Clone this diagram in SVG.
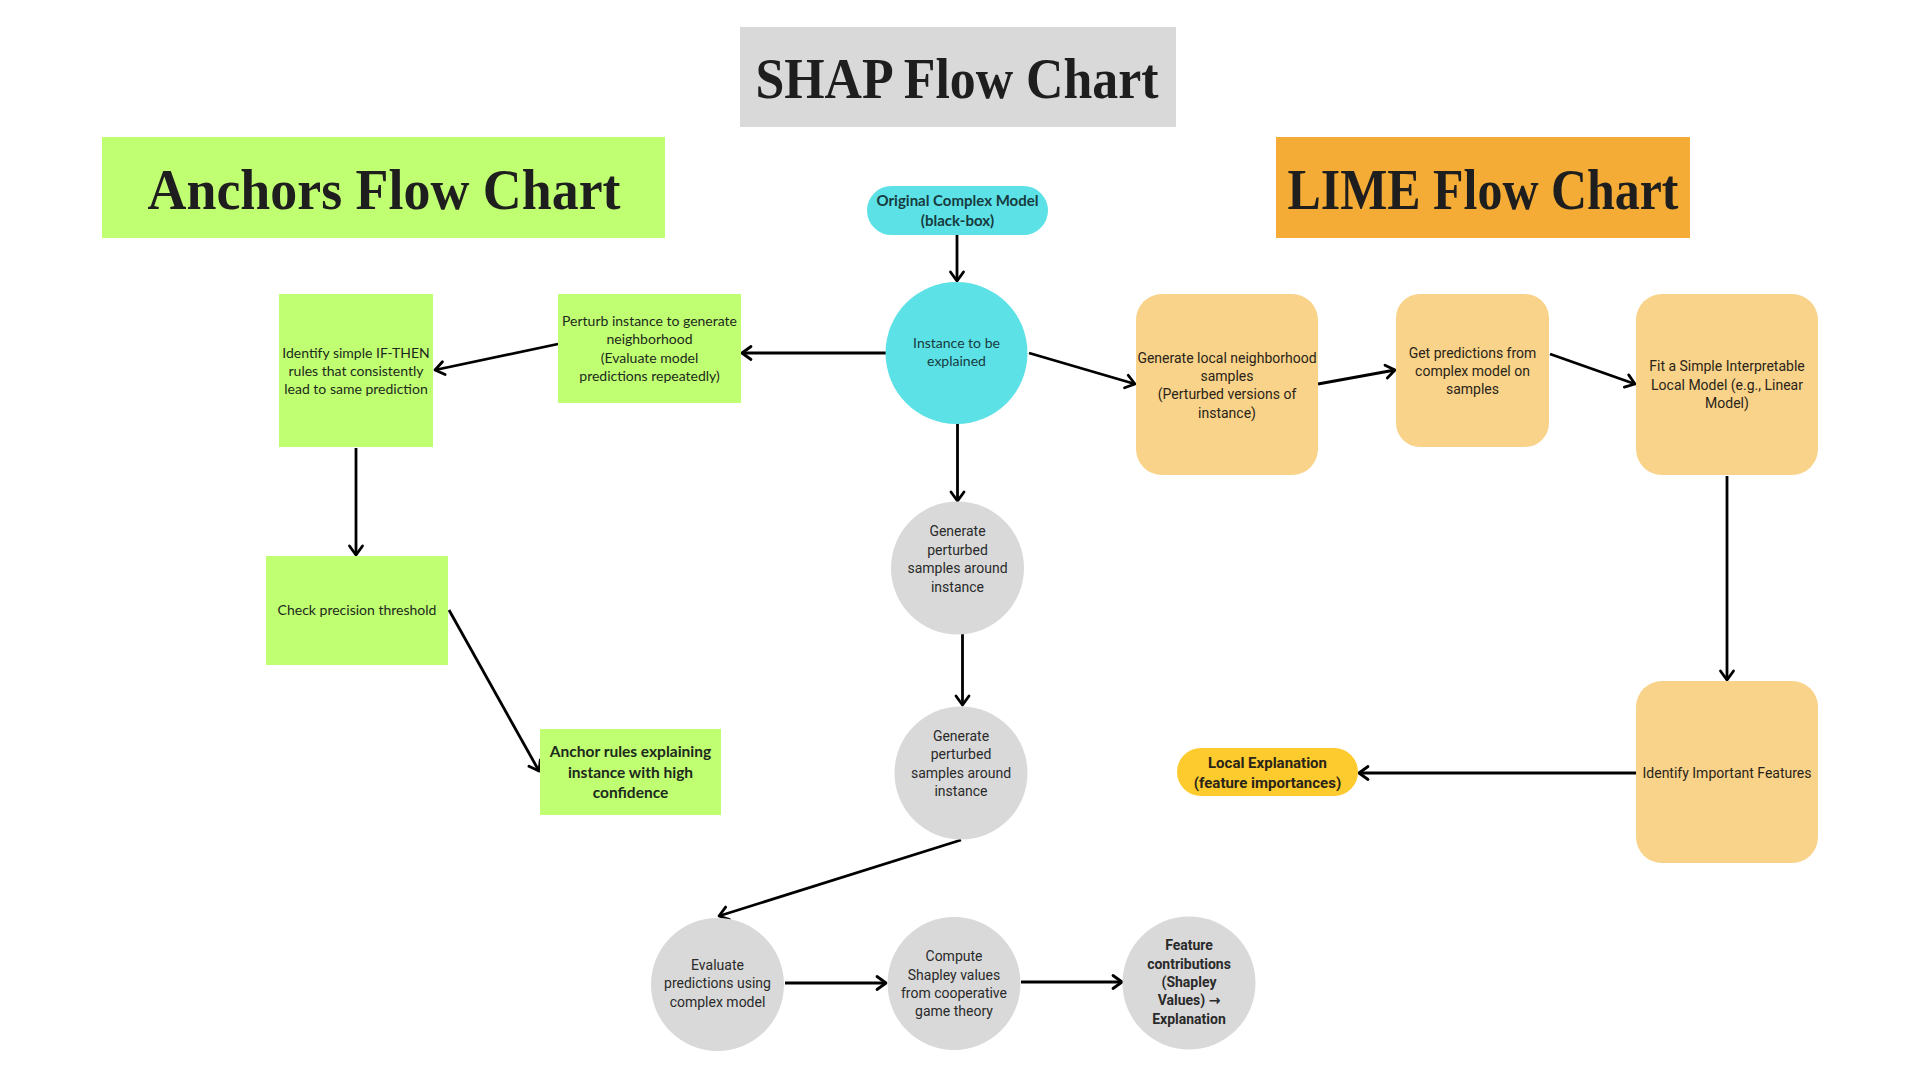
<svg xmlns="http://www.w3.org/2000/svg" width="1920" height="1080" viewBox="0 0 1920 1080">
<style>
.title{font-family:"Liberation Serif","DejaVu Serif",serif;font-weight:bold;font-size:58px;fill:#1e1e1e;text-anchor:middle}
.t{font-family:Lato,"Noto Sans","DejaVu Sans",sans-serif;font-size:14px;fill:#1c2a1c;text-anchor:middle}
.tc{font-family:Lato,"Noto Sans","DejaVu Sans",sans-serif;font-size:14px;fill:#173b3e;text-anchor:middle}
.tg{font-family:Roboto,"Noto Sans","DejaVu Sans",sans-serif;font-size:14px;fill:#2a2a2a;text-anchor:middle}
.to{font-family:Roboto,"Noto Sans","DejaVu Sans",sans-serif;font-size:14px;fill:#2a2418;text-anchor:middle}
.b{font-weight:bold}
.green{fill:#C1FF72}
.orange{fill:#F9D38A}
.grey{fill:#D9D9D9}
.cyan{fill:#5CE1E6}
.conn line{stroke:#000;stroke-width:2.8;fill:none;marker-end:url(#arr)}
</style>
<defs>
<marker id="arr" markerUnits="userSpaceOnUse" markerWidth="16" markerHeight="16" refX="11" refY="8" orient="auto" overflow="visible">
<path d="M2,1.5 L11,8 L2,14.5" fill="none" stroke="#000" stroke-width="2.8" stroke-linecap="round" stroke-linejoin="round"/>
</marker>
</defs>
<rect width="1920" height="1080" fill="#fff"/>

<g id="title-shap">
<rect x="740" y="27" width="436" height="100" fill="#D9D9D9"/>
<text class="title" x="957" y="98" textLength="403" lengthAdjust="spacingAndGlyphs">SHAP Flow Chart</text>
</g>
<g id="title-anchors">
<rect x="102" y="137" width="563" height="101" class="green"/>
<text class="title" x="384" y="209" textLength="473" lengthAdjust="spacingAndGlyphs">Anchors Flow Chart</text>
</g>
<g id="title-lime">
<rect x="1276" y="137" width="414" height="101" fill="#F4AC36"/>
<text class="title" x="1483" y="209" textLength="391" lengthAdjust="spacingAndGlyphs">LIME Flow Chart</text>
</g>

<g class="conn" id="connectors">
<line x1="957" y1="235" x2="957" y2="281"/>
<line x1="886" y1="353" x2="742" y2="353"/>
<line x1="558" y1="344" x2="435" y2="370"/>
<line x1="356" y1="448" x2="356" y2="555"/>
<line x1="449" y1="610" x2="539" y2="771"/>
<line x1="1029" y1="353" x2="1135" y2="384"/>
<line x1="1318" y1="384" x2="1395" y2="370"/>
<line x1="1550" y1="354" x2="1635" y2="384"/>
<line x1="1727" y1="476" x2="1727" y2="680"/>
<line x1="1636" y1="773" x2="1359" y2="773"/>
<line x1="957.5" y1="423" x2="957.5" y2="501"/>
<line x1="962.5" y1="634" x2="962.5" y2="705"/>
<line x1="961" y1="840" x2="719" y2="916"/>
<line x1="785" y1="983" x2="886" y2="983"/>
<line x1="1021" y1="982" x2="1122" y2="982"/>
</g>

<g id="original-model">
<rect x="867" y="186" width="181" height="49" rx="24.5" class="cyan"/>
<text class="tc b" x="957.5" y="206" style="font-size:15px">Original Complex Model</text>
<text class="tc b" x="957.5" y="225.5" style="font-size:15px">(black-box)</text>
</g>
<g id="instance">
<circle cx="956.5" cy="353" r="71" class="cyan"/>
<text class="tc" x="956.5" y="348">Instance to be</text>
<text class="tc" x="956.5" y="366">explained</text>
</g>

<g id="perturb">
<rect x="558" y="294" width="183" height="109" class="green"/>
<text class="t" x="649.5" y="326">Perturb instance to generate</text>
<text class="t" x="649.5" y="344">neighborhood</text>
<text class="t" x="649.5" y="362.5">(Evaluate model</text>
<text class="t" x="649.5" y="381">predictions repeatedly)</text>
</g>
<g id="identify-rules">
<rect x="279" y="294" width="154" height="153" class="green"/>
<text class="t" x="356" y="358">Identify simple IF-THEN</text>
<text class="t" x="356" y="376">rules that consistently</text>
<text class="t" x="356" y="394">lead to same prediction</text>
</g>
<g id="check-precision">
<rect x="266" y="556" width="182" height="109" class="green"/>
<text class="t" x="357" y="615">Check precision threshold</text>
</g>
<g id="anchor-rules">
<rect x="540" y="729" width="181" height="86" class="green"/>
<text class="t b" x="630.5" y="757" style="font-size:15.5px">Anchor rules explaining</text>
<text class="t b" x="630.5" y="777.5" style="font-size:15.5px">instance with high</text>
<text class="t b" x="630.5" y="797.5" style="font-size:15.5px">confidence</text>
</g>

<g id="generate-1">
<circle cx="957.5" cy="568" r="66.5" class="grey"/>
<text class="tg" x="957.5" y="536">Generate</text>
<text class="tg" x="957.5" y="555">perturbed</text>
<text class="tg" x="957.5" y="573">samples around</text>
<text class="tg" x="957.5" y="591.5">instance</text>
</g>
<g id="generate-2">
<circle cx="961" cy="773" r="66.5" class="grey"/>
<text class="tg" x="961" y="741">Generate</text>
<text class="tg" x="961" y="759">perturbed</text>
<text class="tg" x="961" y="778">samples around</text>
<text class="tg" x="961" y="796">instance</text>
</g>
<g id="evaluate">
<circle cx="717.5" cy="984.5" r="66.5" class="grey"/>
<text class="tg" x="717.5" y="970">Evaluate</text>
<text class="tg" x="717.5" y="988">predictions using</text>
<text class="tg" x="717.5" y="1007">complex model</text>
</g>
<g id="compute">
<circle cx="954" cy="983.5" r="66.5" class="grey"/>
<text class="tg" x="954" y="961">Compute</text>
<text class="tg" x="954" y="980">Shapley values</text>
<text class="tg" x="954" y="998">from cooperative</text>
<text class="tg" x="954" y="1016">game theory</text>
</g>
<g id="feature-contributions">
<circle cx="1189" cy="983" r="66.5" class="grey"/>
<text class="tg b" x="1189" y="950">Feature</text>
<text class="tg b" x="1189" y="969">contributions</text>
<text class="tg b" x="1189" y="987">(Shapley</text>
<text class="tg b" x="1189" y="1005">Values) →</text>
<text class="tg b" x="1189" y="1024">Explanation</text>
</g>

<g id="lime-generate">
<rect x="1136" y="294" width="182" height="181" rx="26" class="orange"/>
<text class="to" x="1227" y="362.5">Generate local neighborhood</text>
<text class="to" x="1227" y="381">samples</text>
<text class="to" x="1227" y="399">(Perturbed versions of</text>
<text class="to" x="1227" y="418">instance)</text>
</g>
<g id="lime-predictions">
<rect x="1396" y="294" width="153" height="153" rx="24" class="orange"/>
<text class="to" x="1472.5" y="358">Get predictions from</text>
<text class="to" x="1472.5" y="376">complex model on</text>
<text class="to" x="1472.5" y="394">samples</text>
</g>
<g id="lime-fit">
<rect x="1636" y="294" width="182" height="181" rx="26" class="orange"/>
<text class="to" x="1727" y="371">Fit a Simple Interpretable</text>
<text class="to" x="1727" y="389.5">Local Model (e.g., Linear</text>
<text class="to" x="1727" y="408">Model)</text>
</g>
<g id="lime-identify">
<rect x="1636" y="681" width="182" height="182" rx="26" class="orange"/>
<text class="to" x="1727" y="777.5">Identify Important Features</text>
</g>
<g id="lime-explanation">
<rect x="1177" y="748" width="181" height="48" rx="24" fill="#FDCB2E"/>
<text class="to b" x="1267.5" y="767.5" style="font-size:15px">Local Explanation</text>
<text class="to b" x="1267.5" y="788" style="font-size:15px">(feature importances)</text>
</g>
</svg>
